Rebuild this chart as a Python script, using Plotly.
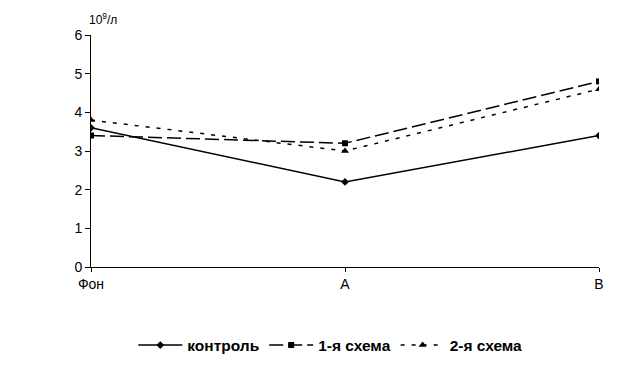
import plotly.graph_objects as go

categories = ["Фон", "А", "В"]
control = [3.6, 2.2, 3.4]
scheme1 = [3.4, 3.2, 4.8]
scheme2 = [3.8, 3.0, 4.6]
y_ticks = [0, 1, 2, 3, 4, 5, 6]

xpos = list(range(len(categories)))
font = "Liberation Sans, Arial, sans-serif"

fig = go.Figure()
fig.add_trace(go.Scatter(x=xpos, y=control, name="контроль", mode="lines+markers",
                         line=dict(color="black", width=1.5, dash="solid"),
                         marker=dict(symbol="diamond", size=6, color="black")))
fig.add_trace(go.Scatter(x=xpos, y=scheme1, name="1-я схема", mode="lines+markers",
                         line=dict(color="black", width=1.5, dash="14px,5px"),
                         marker=dict(symbol="square", size=6, color="black")))
fig.add_trace(go.Scatter(x=xpos, y=scheme2, name="2-я схема", mode="lines+markers",
                         line=dict(color="black", width=1.5, dash="4px,7px"),
                         marker=dict(symbol="triangle-up", size=7, color="black")))

fig.update_layout(
    width=612, height=377,
    margin=dict(l=83, r=21, t=27, b=118),
    paper_bgcolor="white", plot_bgcolor="white",
    font=dict(family=font, size=14, color="black"),
    showlegend=True,
    legend=dict(orientation="h", x=0.471, xanchor="center", y=-0.265, yanchor="top",
                font=dict(family=font, size=15.5, color="black", weight="bold"),
                itemwidth=44, tracegroupgap=0),
    annotations=[dict(text="10<sup>9</sup>/л", x=0, xref="paper", y=1.0, yref="paper",
                      xanchor="left", yanchor="bottom", yshift=6, xshift=-4, showarrow=False,
                      font=dict(family=font, size=12, color="black"))],
)
fig.update_xaxes(range=[0, 2], tickmode="array", tickvals=xpos, ticktext=categories,
                 showgrid=False, zeroline=False, showline=True, linecolor="black", linewidth=1,
                 ticks="outside", ticklen=4, tickcolor="black", tickfont=dict(size=14),
                 fixedrange=True)
fig.update_yaxes(range=[0, 6], tickmode="array", tickvals=y_ticks,
                 showgrid=False, zeroline=False, showline=True, linecolor="black", linewidth=1,
                 ticks="outside", ticklen=5, tickcolor="black", tickfont=dict(size=14),
                 fixedrange=True)

fig.write_html("out.html")
